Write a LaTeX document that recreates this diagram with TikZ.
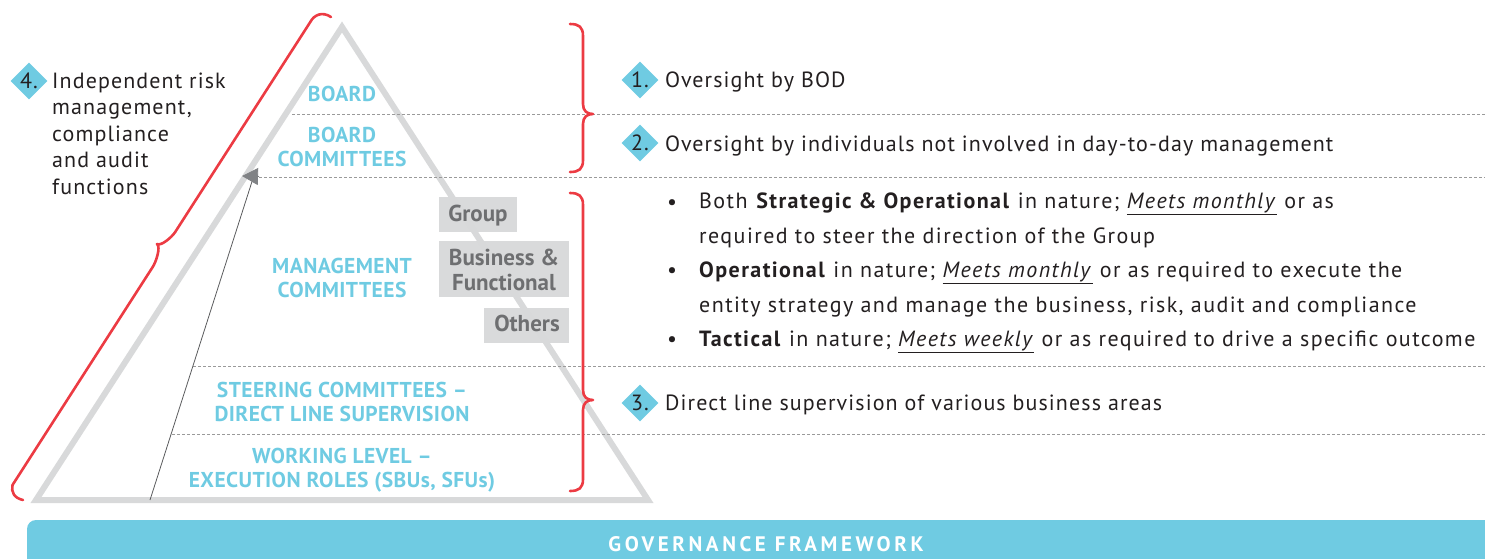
\documentclass[tikz,border=0pt]{standalone}
\usepackage{fontspec}
\setmainfont[LetterSpace=5]{PT Sans}
\newfontfamily\bulfont[LetterSpace=6.5]{PT Sans}
\newfontfamily\labfont[LetterSpace=2]{PT Sans}
\newfontfamily\boxfont{PT Sans}
\newfontfamily\barfont[LetterSpace=17]{PT Sans}
\usetikzlibrary{arrows.meta,shapes.geometric}
\definecolor{cy}{HTML}{6FCBE2}
\definecolor{tri}{HTML}{D8D9DA}
\definecolor{rd}{HTML}{EC3B43}
\definecolor{dots}{HTML}{9A9A9A}
\definecolor{boxf}{HTML}{D9DADB}
\definecolor{boxt}{HTML}{6E6F71}
\definecolor{ink}{HTML}{231F20}
\definecolor{agray}{HTML}{808285}
\newcommand\rbr[3]{\draw[redbrace] (570,#1) .. controls (579,#1) and (583,#1+3) .. (583,#1+12) -- (583,#2-10) .. controls (583,#2-3) and (587,#2) .. (593,#2) .. controls (587,#2) and (583,#2+3) .. (583,#2+10) -- (583,#3-12) .. controls (583,#3-3) and (579,#3) .. (570,#3);}
\begin{document}
\begin{tikzpicture}[x=1pt,y=-1pt,
  body/.style={font=\fontsize{22}{26.5}\selectfont, text=ink, inner sep=0, anchor=base west, align=left},
  lab/.style={font=\labfont\bfseries\fontsize{21.5}{23.5}\selectfont, text=cy, align=center, inner sep=0, anchor=base},
  gbox/.style={fill=boxf, inner sep=0},
  btxt/.style={font=\boxfont\bfseries\fontsize{23}{24.5}\selectfont, text=boxt, align=center, inner sep=0, anchor=base},
  num/.style={diamond, fill=cy, minimum width=37, minimum height=37, inner sep=0, font=\fontsize{22}{24}\selectfont, text=ink},
  dotline/.style={dots, line width=1, dash pattern=on 2.5 off 2.5},
  redbrace/.style={rd, line width=2.6, line cap=round, line join=round},
  bul/.style={font=\fontsize{22}{34.3}\selectfont, text=ink, inner sep=0, anchor=base},
  btext/.style={body, font=\bulfont\fontsize{22}{34.3}\selectfont},
]
\useasboundingbox (0,0) rectangle (1485,558);

% bottom bar
\path[fill=cy, rounded corners=9] (27,520) rectangle (1520,600);
\node[font=\barfont\bfseries\fontsize{21}{22}\selectfont, text=white, anchor=base, inner sep=0] (gf) at (766,551) {GOVERNANCE FRAMEWORK};

% gray boxes (behind triangle)
\path[gbox] (439,197) rectangle (517,232);
\path[gbox] (439,241) rectangle (569,297);
\path[gbox] (484,308) rectangle (569,343);

% triangle
\draw[tri, line width=6, line join=miter] (342,27) -- (648,500) -- (36,500) -- cycle;

% dotted lines
\draw[dotline] (292,114) -- (1485,114);
\draw[dotline] (259,177) -- (1485,177);
\draw[dotline] (193,366) -- (1485,366);
\draw[dotline] (172,434) -- (1485,434);

% arrow
\coordinate (abase) at (150,500);
\coordinate (atip) at (242,176);
\draw[agray!70!black, line width=0.8, -{Triangle[length=16pt,width=17pt,fill=agray,color=agray]}] (abase) -- (252.5,180) -- (258,176.5) -- (atip);

% gray box texts (anchor = baseline of last line)
\node[btxt] (grp) at (478,221.5) {Group};
\node[btxt] (bus) at (504,290) {Business \&\\Functional};
\node[btxt] (oth) at (527,331.5) {Others};

% triangle labels
\node[lab] (l1) at (342,101) {BOARD};
\node[lab] (l2) at (342,166) {BOARD\\COMMITTEES};
\node[lab] (l3) at (342,297) {MANAGEMENT\\COMMITTEES};
\node[lab] (l4) at (342,421) {STEERING COMMITTEES –\\DIRECT LINE SUPERVISION};
\node[lab] (l5) at (342,487) {WORKING LEVEL –\\EXECUTION ROLES (SBUs, SFUs)};

% red braces
\rbr{24}{114}{172}
\rbr{193}{400}{491}
\draw[redbrace] (23,500) .. controls (14,498) and (11,492) .. (12.5,485) -- (152.7,267) .. controls (156,262) and (161,247) .. (157,244) .. controls (161,246.5) and (172,237) .. (175.2,232) -- (310.3,22) .. controls (314,15) and (322,11) .. (331,17);

% numbered items
\node[num] (d4) at (29,81) {4.};
\node[body] (t4) at (52,194) {Independent risk\\management,\\compliance\\and audit\\functions};
\node[num] (d1) at (640,80) {1.};
\node[body] (t1) at (665,87) {Oversight by BOD};
\node[num] (d2) at (640,143) {2.};
\node[body] (t2) at (665,151) {Oversight by individuals not involved in day-to-day management};
\node[num] (d3) at (640,403) {3.};
\node[body] (t3) at (665,410) {Direct line supervision of various business areas};

% bullets
\node[bul] (b1) at (672,209) {•};
\node[bul] (b2) at (672,277.5) {•};
\node[bul] (b3) at (672,346) {•};
\node[btext] (bt1) at (699,243) {Both \textbf{Strategic \& Operational} in nature; \underline{\textit{Meets monthly}} or as\\required to steer the direction of the Group};
\node[btext] (bt2) at (699,312) {\textbf{Operational} in nature; \underline{\textit{Meets monthly}} or as required to execute the\\entity strategy and manage the business, risk, audit and compliance};
\node[btext] (bt3) at (699,346) {\textbf{Tactical} in nature; \underline{\textit{Meets weekly}} or as required to drive a specific outcome};
\end{tikzpicture}
\end{document}
